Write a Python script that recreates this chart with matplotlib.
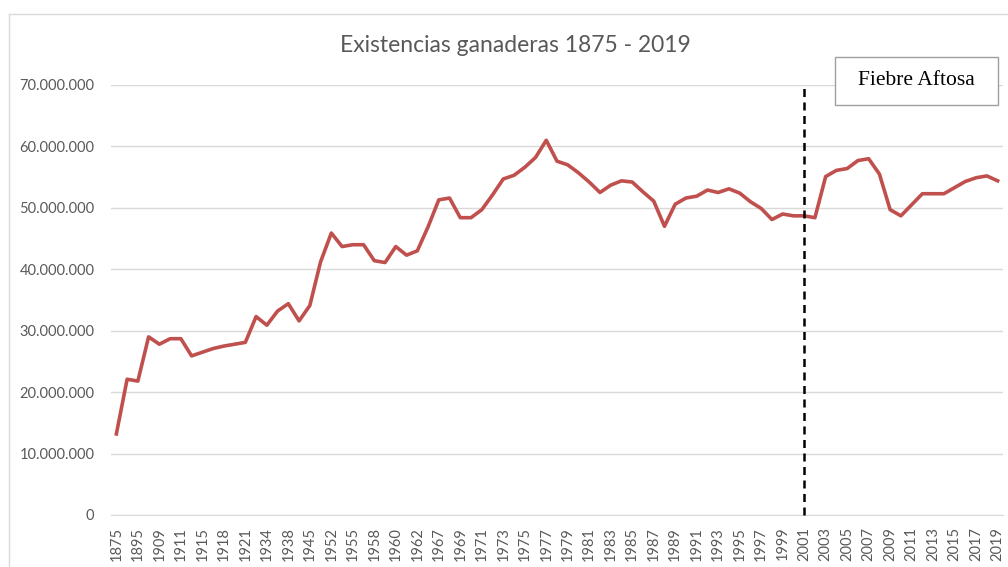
import matplotlib
matplotlib.use("Agg")
import matplotlib.pyplot as plt
from matplotlib.lines import Line2D
from matplotlib.patches import Rectangle
from matplotlib.ticker import FuncFormatter

years = [1875, 1888, 1895, 1905, 1909, 1910, 1911, 1913, 1915, 1917,
         1918, 1920, 1921, 1929, 1934, 1936, 1938, 1940, 1945, 1950,
         1952, 1954, 1955, 1957, 1958, 1959, 1960, 1961, 1962, 1965,
         1967, 1968, 1969, 1970, 1971, 1972] + list(range(1973, 2020))

livestock = [13.2, 22.1, 21.8, 29.0, 27.8, 28.7, 28.7, 25.9, 26.5, 27.1,
             27.5, 27.8, 28.1, 32.3, 30.9, 33.2, 34.4, 31.6, 34.1, 41.2,
             45.9, 43.7, 44.0, 44.0, 41.4, 41.1, 43.7, 42.3, 43.0, 46.9,
             51.3, 51.6, 48.4, 48.4, 49.7, 52.1, 54.7, 55.3, 56.6, 58.2,
             61.0, 57.6, 57.0, 55.7, 54.2, 52.5, 53.7, 54.4, 54.2, 52.6,
             51.1, 47.0, 50.6, 51.6, 51.9, 52.9, 52.5, 53.1, 52.4, 51.0,
             49.9, 48.1, 49.0, 48.7, 48.7, 48.4, 55.1, 56.1, 56.4, 57.7,
             58.0, 55.5, 49.7, 48.7, 50.5, 52.3, 52.3, 52.3, 53.3, 54.3,
             54.9, 55.2, 54.4]
livestock = [v * 1e6 for v in livestock]

event_year = 2001
event_label = "Fiebre Aftosa"
title = "Existencias ganaderas 1875 - 2019"

W, H = 1008, 567
fig = plt.figure(figsize=(W / 100, H / 100), dpi=100)
ax = fig.add_axes([111 / W, 1 - 515 / H, (1003 - 111) / W, (515 - 85) / H])

gray = "#595959"
x = list(range(len(years)))
ax.plot(x, livestock, color="#C0504D", lw=2.6, solid_joinstyle="round", zorder=3)

ax.set_xlim(-0.5, len(years) - 0.5)
ax.set_ylim(0, 70e6)
ax.set_yticks([i * 10e6 for i in range(8)])
ax.yaxis.set_major_formatter(FuncFormatter(lambda v, p: f"{int(v):,}".replace(",", ".")))
ax.set_xticks(x[::2])
ax.set_xticklabels([str(y) for y in years[::2]], rotation=90)
ax.grid(axis="y", color="#d9d9d9", lw=1)
ax.set_axisbelow(True)
for s in ["top", "right", "left"]:
    ax.spines[s].set_visible(False)
ax.spines["bottom"].set_color("#d9d9d9")
ax.tick_params(axis="both", length=0, colors=gray, labelsize=10.5)
ax.tick_params(axis="y", pad=12)
ax.tick_params(axis="x", pad=8.5)
for lab in ax.get_xticklabels() + ax.get_yticklabels():
    lab.set_family("Lato")

ev = years.index(event_year)
ax.plot([ev, ev], [0, 70e6], color="black", lw=1.8, ls=(0, (3.2, 2.2)), zorder=4, clip_on=False)

fig.text(515 / W, 1 - 45 / H, title, ha="center", va="center", fontsize=16.5,
         color=gray, family="Lato")

fig.add_artist(Rectangle((835 / W, 1 - 105 / H), (998 - 835) / W, (105 - 57) / H,
                         transform=fig.transFigure, fc="white", ec="#a0a0a0", lw=1, zorder=5))
fig.text(916.5 / W, 1 - 81 / H, event_label, ha="center", va="center", fontsize=15.5,
         family="Liberation Serif", color="black", zorder=6)

fig.add_artist(Line2D([9 / W, 9 / W], [0, 1 - 14 / H], color="#d9d9d9", lw=1))
fig.add_artist(Line2D([9 / W, 1], [1 - 14 / H, 1 - 14 / H], color="#d9d9d9", lw=1))

fig.savefig("out.png", dpi=100)
